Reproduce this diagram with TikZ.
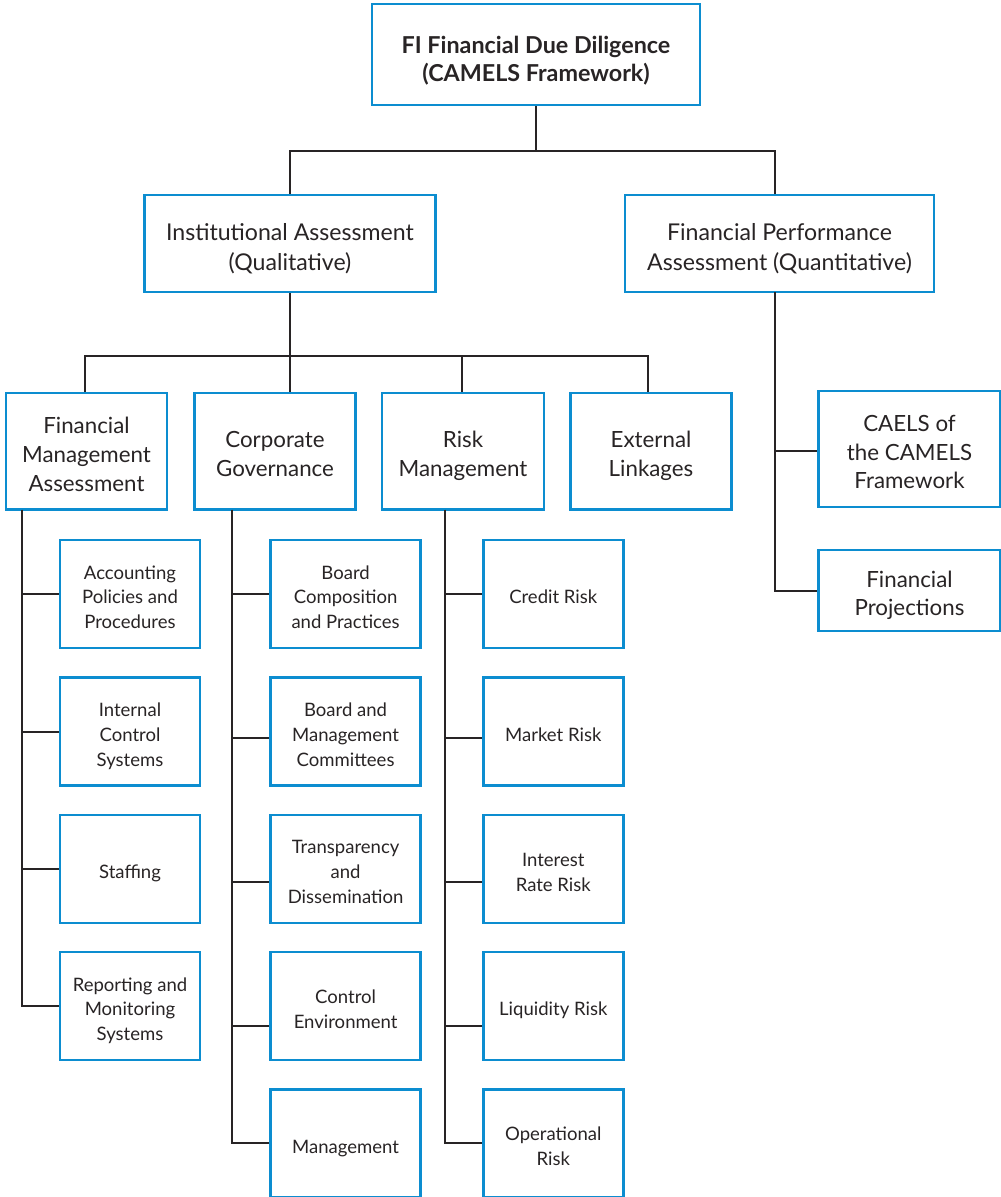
\documentclass[tikz,border=0pt]{standalone}
\usepackage{fontspec}
\setmainfont{Lato}
\usetikzlibrary{calc}
\definecolor{boxblue}{RGB}{12,141,208}
\definecolor{ink}{RGB}{40,36,37}
\tikzset{
  box/.style={draw=boxblue, line width=2.4bp, fill=white, text=ink, align=center, inner sep=0pt, anchor=center, text depth=0pt},
  nrows/.code={\pgfmathsetmacro\tmpth{(#1-1)*\rowskip+\capht+\extrah}\pgfkeysalso{text height=\tmpth bp}},
  topbox/.style={box, font=\fontsize{23.4}{28.5}\selectfont\bfseries, /utils/exec={\def\rowskip{28.5}\def\capht{16.6}\def\extrah{9}}, nrows=2},
  lvtwo/.style={box, font=\fontsize{23.2}{30}\selectfont, /utils/exec={\def\rowskip{30}\def\capht{16.5}\def\extrah{8}}, nrows=2},
  lvthree/.style={box, font=\fontsize{22.4}{29}\selectfont, /utils/exec={\def\rowskip{29}\def\capht{15.8}\def\extrah{6}}, nrows=2},
  lvfour/.style={box, font=\fontsize{18.6}{25}\selectfont, /utils/exec={\def\rowskip{25}\def\capht{13.2}\def\extrah{6.5}}, nrows=3},
  conn/.style={draw=ink, line width=2bp}
}
\begin{document}
\begin{tikzpicture}[x=1bp,y=-1bp]
\useasboundingbox (0,0) rectangle (1001,1197);
% top
\node[topbox, minimum width=328bp, minimum height=101bp] (top) at (536,54.5) {FI Financial Due Diligence\\(CAMELS Framework)};
% level 2
\node[lvtwo, minimum width=291bp, minimum height=97bp] (inst) at (290,243.5) {Institutional Assessment\\(Qualitative)};
\node[lvtwo, minimum width=309bp, minimum height=97bp] (fpa) at (779.5,243.5) {Financial Performance\\Assessment (Quantitative)};
% level 3
\node[lvthree, nrows=3, minimum width=161bp, minimum height=116.5bp] (fma) at (86.5,451.25) {Financial\\Management\\Assessment};
\node[lvthree, minimum width=161bp, minimum height=116.5bp] (cg) at (275,451.25) {Corporate\\Governance};
\node[lvthree, minimum width=162bp, minimum height=116.5bp] (rm) at (463,451.25) {Risk\\Management};
\node[lvthree, minimum width=161bp, minimum height=116.5bp] (ext) at (651,451.25) {External\\Linkages};
% right branch
\node[lvthree, nrows=3, minimum width=182bp, minimum height=116bp] (cael) at (909.5,449) {CAELS of\\the CAMELS\\Framework};
\node[lvthree, minimum width=182bp, minimum height=81bp] (proj) at (909.5,590.5) {Financial\\Projections};
% column 1
\node[lvfour, minimum width=140bp, minimum height=108bp] (acc) at (130,594) {Accounting\\Policies and\\Procedures};
\node[lvfour, minimum width=140bp, minimum height=108bp] (ics) at (130,731.5) {Internal\\Control\\Systems};
\node[lvfour, nrows=1, minimum width=140bp, minimum height=108bp] (stf) at (130,868.7) {Staffing};
\node[lvfour, minimum width=140bp, minimum height=108bp] (rms) at (130,1006) {Reporting and\\Monitoring\\Systems};
% column 2
\node[lvfour, minimum width=150bp, minimum height=108bp] (bcp) at (345.6,594) {Board\\Composition\\and Practices};
\node[lvfour, minimum width=150bp, minimum height=108bp] (bmc) at (345.6,731.5) {Board and\\Management\\Committees};
\node[lvfour, minimum width=150bp, minimum height=108bp] (tad) at (345.6,868.7) {Transparency\\and\\Dissemination};
\node[lvfour, nrows=2, minimum width=150bp, minimum height=108bp] (cen) at (345.6,1006) {Control\\Environment};
\node[lvfour, nrows=1, minimum width=150bp, minimum height=108bp] (mgt) at (345.6,1143.3) {Management};
% column 3
\node[lvfour, nrows=1, minimum width=140bp, minimum height=108bp] (crr) at (553.3,594) {Credit Risk};
\node[lvfour, nrows=1, minimum width=140bp, minimum height=108bp] (mkr) at (553.3,731.5) {Market Risk};
\node[lvfour, nrows=2, minimum width=140bp, minimum height=108bp] (irr) at (553.3,868.7) {Interest\\Rate Risk};
\node[lvfour, nrows=1, minimum width=140bp, minimum height=108bp] (lqr) at (553.3,1006) {Liquidity Risk};
\node[lvfour, nrows=2, minimum width=140bp, minimum height=108bp] (opr) at (553.3,1143.3) {Operational\\Risk};
% junctions
\coordinate (j1) at (536,150.7);
\coordinate (j2) at (290,356);
\coordinate (s1) at (21.5,509.5);
\coordinate (s2) at (232.3,509.5);
\coordinate (s3) at (445,509.5);
\coordinate (s4) at (775,292);
% connectors
\draw[conn] (top.south) -- (j1);
\draw[conn] (inst.north) |- (j1);
\draw[conn] (j1) -| (s4 |- fpa.north);
\draw[conn] (inst.south) -- (j2);
\draw[conn] (fma.north -| 85,0) |- (j2);
\draw[conn] (j2) -- (j2 |- cg.north);
\draw[conn] (j2) -| (rm.north -| 462,0);
\draw[conn] (j2) -| (ext.north -| 647.7,0);
% column 1
\draw[conn] (s1) |- (rms.west);
\draw[conn] (s1 |- acc.west) -- (acc.west);
\draw[conn] (s1 |- ics.west) -- (ics.west);
\draw[conn] (s1 |- stf.west) -- (stf.west);
% column 2
\draw[conn] (s2) |- ([yshift=0.6bp]mgt.west);
\draw[conn] (s2 |- bcp.west) -- (bcp.west);
\draw[conn] (s2 |- 0,738) -- (bmc.west |- 0,738);
\draw[conn] (s2 |- 0,881.7) -- (tad.west |- 0,881.7);
\draw[conn] (s2 |- 0,1025.7) -- (cen.west |- 0,1025.7);
% column 3
\draw[conn] (s3) |- ([yshift=0.6bp]opr.west);
\draw[conn] (s3 |- crr.west) -- (crr.west);
\draw[conn] (s3 |- 0,738) -- (mkr.west |- 0,738);
\draw[conn] (s3 |- 0,881.7) -- (irr.west |- 0,881.7);
\draw[conn] (s3 |- 0,1025.7) -- (lqr.west |- 0,1025.7);
% right
\draw[conn] (s4) |- (proj.west);
\draw[conn] (s4 |- 0,451) -- (cael.west |- 0,451);
\end{tikzpicture}
\end{document}
